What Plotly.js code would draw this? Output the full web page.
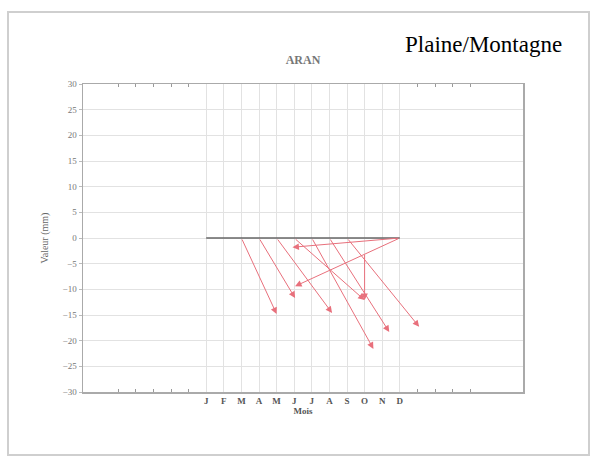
<!DOCTYPE html>
<html>
<head>
<meta charset="utf-8">
<script src="https://cdn.plot.ly/plotly-3.0.1.min.js"></script>
<style>html,body{margin:0;padding:0;background:#fff;}#chart{width:593px;height:463px;}</style>
</head>
<body>
<div id="chart"></div>
<script>
// Month axis
const monthVals = [1,2,3,4,5,6,7,8,9,10,11,12];
const monthLabels = ['J','F','M','A','M','J','J','A','S','O','N','D'];
const extraTickVals = [-4,-3,-2,-1,0,13,14,15,16];
// Baseline at zero across the months
const baseMonths = [1, 12];
const baseVals = [0, 0];
// Arrows: start (month, value) -> end (month, value)
const startMonth = [3, 4, 5, 6, 10, 7, 8, 9, 12, 12];
const startVal   = [0, 0, 0, 0, -3, 0, 0, 0, 0, 0];
const endMonth   = [5, 6.05, 8.15, 10, 10, 10.5, 11.4, 13.1, 6.05, 5.9];
const endVal     = [-14.8, -11.7, -14.6, -12.1, -12.1, -21.6, -18.3, -17.3, -9.4, -1.8];

const serif = 'Liberation Serif, Times New Roman, serif';
const arrowColor = '#e8707c';

const annotations = startMonth.map((m, i) => ({
  x: endMonth[i], y: endVal[i], xref: 'x', yref: 'y',
  ax: m, ay: startVal[i], axref: 'x', ayref: 'y',
  text: '', showarrow: true, arrowhead: 2, arrowsize: 1.3,
  arrowwidth: 1, arrowcolor: arrowColor, standoff: 0, startstandoff: 0
}));
annotations.push({
  text: 'Plaine/Montagne', xref: 'paper', yref: 'paper',
  x: (403 - 83) / 440, y: (392 - 45) / 308, xanchor: 'left', yanchor: 'middle',
  showarrow: false, font: {family: serif, size: 23, color: '#000'}
});

const traces = [{
  x: baseMonths, y: baseVals, type: 'scatter', mode: 'lines',
  line: {color: '#666', width: 1.5}, hoverinfo: 'skip', showlegend: false
}, {
  x: [], y: [], xaxis: 'x2', type: 'scatter', mode: 'lines', showlegend: false
}];

const layout = {
  width: 593, height: 463,
  margin: {l: 83, r: 70, t: 84, b: 71},
  paper_bgcolor: '#fff', plot_bgcolor: '#fff',
  showlegend: false,
  title: {text: '<b>ARAN</b>', x: 303/593, y: 1 - 60/463, xanchor: 'center', yanchor: 'middle',
          font: {family: serif, size: 12, color: '#777'}},
  xaxis: {
    range: [-6, 19], tickvals: monthVals, ticktext: monthLabels.map(s => '<b>' + s + '</b>'),
    showgrid: true, gridcolor: '#e2e2e2', gridwidth: 1, zeroline: false,
    showline: true, linecolor: '#aaa', linewidth: 1.5, mirror: true,
    ticks: '', tickfont: {family: serif, size: 9, color: '#555'},
    title: {text: '<b>Mois</b>', standoff: 0, font: {family: serif, size: 9, color: '#555'}}
  },
  xaxis2: {
    overlaying: 'x', range: [-6, 19], tickvals: extraTickVals, showticklabels: false,
    ticks: 'inside', ticklen: 3, tickcolor: '#999', mirror: 'ticks', showgrid: false,
    zeroline: false, showline: false, side: 'bottom', anchor: 'y'
  },
  yaxis: {
    range: [-30, 30], dtick: 5, showgrid: true, gridcolor: '#e2e2e2', gridwidth: 1,
    zeroline: false, showline: true, linecolor: '#aaa', linewidth: 1.5, mirror: true,
    ticks: 'outside', ticklen: 3, tickcolor: '#bbb',
    tickfont: {family: serif, size: 9, color: '#777'},
    title: {text: 'Valeur (mm)', standoff: 12, font: {family: serif, size: 10, color: '#666'}}
  },
  shapes: [{
    type: 'rect', xref: 'paper', yref: 'paper',
    x0: (8 - 83) / 440, x1: (589 - 83) / 440, y0: (392 - 455) / 308, y1: (392 - 12) / 308,
    line: {color: '#cfcfcf', width: 2}, fillcolor: 'rgba(0,0,0,0)', layer: 'below'
  }],
  annotations: annotations
};

Plotly.newPlot('chart', traces, layout, {displayModeBar: false, staticPlot: true});
</script>
</body>
</html>
